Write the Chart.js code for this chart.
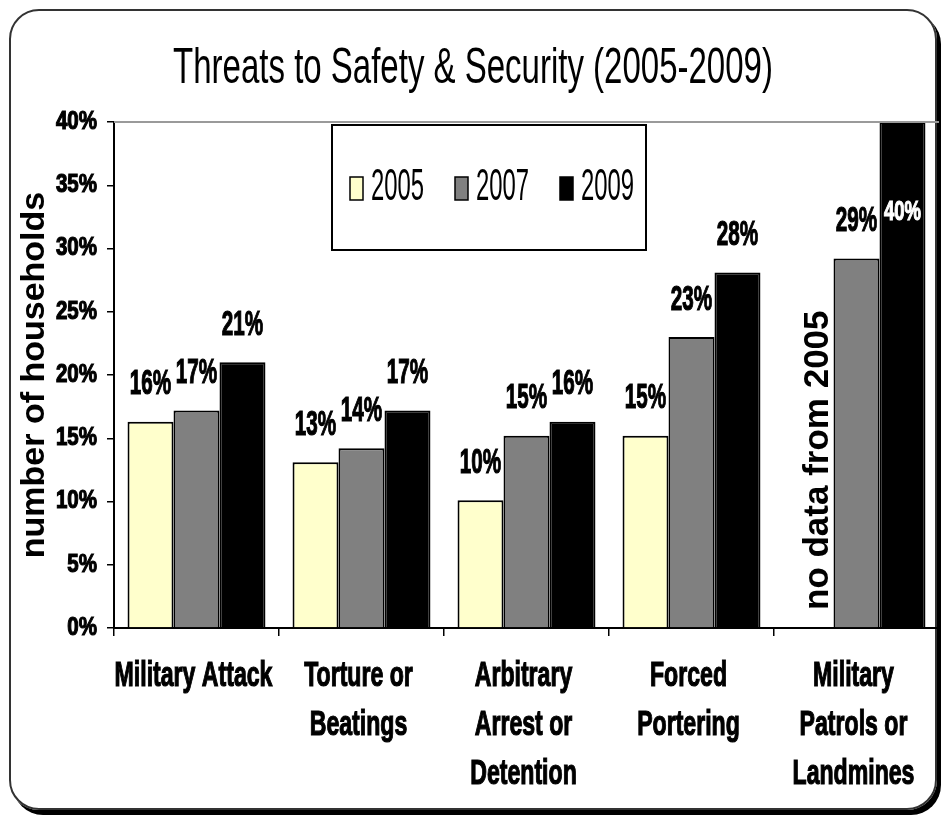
<!DOCTYPE html>
<html>
<head>
<meta charset="utf-8">
<title>Threats to Safety & Security (2005-2009)</title>
<script src="https://cdn.jsdelivr.net/npm/chart.js@4.4.1/dist/chart.umd.min.js"></script>
<style>
  html, body { margin: 0; padding: 0; background: #fff; }
  #wrap { position: relative; width: 942px; height: 818px; overflow: hidden; }
  #frame {
    position: absolute; left: 9px; top: 9px; width: 924px; height: 797px;
    border: 2px solid #333; border-radius: 30px; box-shadow: 4px 5px 0 #000;
  }
  #chart { position: absolute; left: 0; top: 0; }
</style>
</head>
<body>
<div id="wrap">
  <div id="frame"></div>
  <canvas id="chart" width="942" height="818"></canvas>
</div>
<script>
// ── Data ─────────────────────────────────────────
const chartTitle = 'Threats to Safety & Security (2005-2009)';
const yTitle = 'number of households';
const noDataNote = 'no data from 2005';

const categories = [
  ['Military Attack'],
  ['Torture or', 'Beatings'],
  ['Arbitrary', 'Arrest or', 'Detention'],
  ['Forced', 'Portering'],
  ['Military', 'Patrols or', 'Landmines'],
];
const years = ['2005', '2007', '2009'];
const values2005 = [16.3, 13.1, 10.1, 15.2, null];
const values2007 = [17.2, 14.2, 15.2, 23.0, 29.2];
const values2009 = [21.0, 17.2, 16.3, 28.1, 40.0];
const yMin = 0, yMax = 40, yStep = 5;

const colors = ['#FFFFCC', '#808080', '#000000'];

// ── Helpers ──────────────────────────────────────
const SANS = "'Liberation Sans', Arial, sans-serif";

// Excel's Arial Narrow look: draw Arial squeezed horizontally,
// with a thin stroke on bold text so the stems stay heavy
function squash(ctx, text, x, y, size, weight, sx, align, color) {
  ctx.save();
  ctx.font = `${weight} ${size}px ${SANS}`;
  ctx.fillStyle = color || '#000';
  ctx.strokeStyle = color || '#000';
  ctx.textBaseline = 'middle';
  ctx.textAlign = align || 'center';
  ctx.translate(x, y);
  ctx.scale(sx, 1);
  ctx.fillText(text, 0, 0);
  if (weight === 'bold') {
    ctx.lineWidth = 1.2;
    ctx.strokeText(text, 0, 0);
  }
  ctx.restore();
}

const decorations = {
  id: 'decorations',
  afterDraw(chart) {
    const ctx = chart.ctx;
    const area = chart.chartArea;
    const xs = chart.scales.x, ys = chart.scales.y;

    // plot area top edge
    ctx.save();
    ctx.strokeStyle = '#9a9a9a';
    ctx.lineWidth = 2;
    ctx.beginPath();
    ctx.moveTo(area.left, area.top);
    ctx.lineTo(area.right, area.top);
    ctx.stroke();
    ctx.restore();

    // title
    squash(ctx, chartTitle, 473, 69, 50, 'normal', 0.66);

    // y tick labels
    ys.ticks.forEach(t => {
      squash(ctx, t.value + '%', area.left - 17, ys.getPixelForValue(t.value), 25, 'bold', 0.82, 'right');
    });

    // x category labels
    categories.forEach((lines, i) => {
      const cx = xs.getPixelForTick(i);
      lines.forEach((ln, k) => {
        squash(ctx, ln, cx - 3, area.bottom + 48 + k * 49, 35, 'bold', 0.66);
      });
    });

    // value labels
    chart.data.datasets.forEach((ds, di) => {
      const meta = chart.getDatasetMeta(di);
      ds.data.forEach((v, i) => {
        if (v == null) return;
        const bar = meta.data[i];
        const txt = Math.round(v) + '%';
        if (bar.y - 50 < area.top) {
          squash(ctx, txt, bar.x, bar.y + 90, 28, 'bold', 0.66, 'center', '#fff');
        } else {
          squash(ctx, txt, bar.x, bar.y - 37, 35, 'bold', 0.59);
        }
      });
    });

    // missing 2005 note
    const meta05 = chart.getDatasetMeta(0);
    values2005.forEach((v, i) => {
      if (v != null) return;
      ctx.save();
      ctx.translate(meta05.data[i].x + 8, area.bottom - 18);
      ctx.rotate(-Math.PI / 2);
      ctx.font = `bold 35px ${SANS}`;
      ctx.fillStyle = '#000';
      ctx.textAlign = 'left';
      ctx.textBaseline = 'middle';
      ctx.fillText(noDataNote, 0, 0);
      ctx.restore();
    });

    // legend box
    const bx = area.left + 218, by = area.top + 3, bw = 314, bh = 125;
    ctx.save();
    ctx.fillStyle = '#fff';
    ctx.fillRect(bx, by, bw, bh);
    ctx.strokeStyle = '#000';
    ctx.lineWidth = 2;
    ctx.strokeRect(bx, by, bw, bh);
    chart.data.datasets.forEach((ds, di) => {
      const sx = bx + 18 + di * 105;
      const cy = by + 63;
      ctx.fillStyle = ds.backgroundColor;
      ctx.fillRect(sx, cy - 11, 13, 23);
      ctx.strokeStyle = '#000';
      ctx.lineWidth = 1.5;
      ctx.strokeRect(sx, cy - 11, 13, 23);
      squash(ctx, ds.label, sx + 21, cy, 45, 'normal', 0.53, 'left');
    });
    ctx.restore();
  }
};

// ── Chart ────────────────────────────────────────
const seriesValues = [values2005, values2007, values2009];

new Chart(document.getElementById('chart'), {
  type: 'bar',
  data: {
    labels: categories,
    datasets: years.map((y, i) => ({
      label: y,
      data: seriesValues[i],
      backgroundColor: colors[i],
      borderColor: '#000',
      borderWidth: 2,
      categoryPercentage: 0.836,
      barPercentage: 1.0,
    })),
  },
  options: {
    responsive: false,
    animation: false,
    layout: { padding: { top: 122, left: 10, right: 3, bottom: 10 } },
    plugins: {
      legend: { display: false },
      title: { display: false },
      tooltip: { enabled: false },
    },
    scales: {
      x: {
        ticks: { display: false },
        grid: { offset: true, drawOnChartArea: false, tickLength: 8, color: '#000', lineWidth: 1.5 },
        border: { color: '#000', width: 2 },
        afterFit: s => { s.height = 180; },
      },
      y: {
        min: yMin, max: yMax,
        ticks: { display: false, stepSize: yStep },
        grid: { drawOnChartArea: false, tickLength: 7, color: '#000', lineWidth: 1.5 },
        border: { color: '#000', width: 2 },
        title: {
          display: true, text: yTitle, color: '#000',
          font: { family: SANS, size: 34, weight: 'bold' },
          padding: { top: 4, bottom: 0 },
        },
        afterFit: s => { s.width = 104; },
      },
    },
  },
  plugins: [decorations],
});
</script>
</body>
</html>
